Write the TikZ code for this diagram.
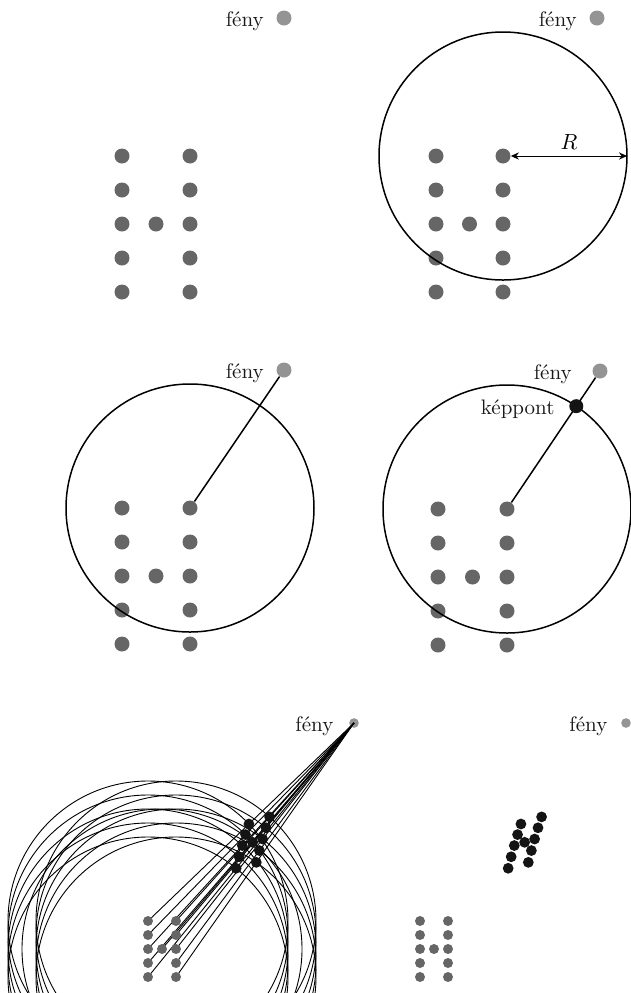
\documentclass[tikz,border=0pt]{standalone}
\usepackage{tikz}
\usetikzlibrary{arrows.meta,positioning,calc}
\tikzset{
  px/.style={x=0.5pt, y=-0.5pt, font=\fontsize{10.5}{12}\selectfont},
  h dot/.style={circle, fill=black!60, inner sep=0pt, minimum size=7.5pt},
  h lamp/.style={circle, fill=black!42, inner sep=0pt, minimum size=7.5pt},
  h pix/.style={circle, fill=black!92, inner sep=0pt, minimum size=7pt},
  s dot/.style={h dot, minimum size=5pt},
  s lamp/.style={h lamp, minimum size=4.8pt},
  s pix/.style={h pix, minimum size=5.4pt},
  h lbl/.style={inner sep=0pt, text=black!90},
  h ring/.style={line width=0.75pt},
  h ray/.style={line width=0.75pt},
  s ring/.style={line width=0.45pt},
  s ray/.style={line width=0.45pt},
  r arr/.style={{Stealth[length=4pt,width=3.6pt]}-{Stealth[length=4pt,width=3.6pt]}, line width=0.5pt},
}

\begin{document}
\begin{tikzpicture}[px]
\useasboundingbox (0,0) rectangle (631,993);
% ---- panel 1: the H and the light ----
\foreach \c/\r [count=\i] in {0/0,0/1,0/2,0/3,0/4,2/0,2/1,2/2,2/3,2/4,1/2} \node[h dot] (a\i) at (122+\c*34, 156+\r*34) {};
\node[h lamp] (L1) at (284,18) {};
\node[h lbl, left=6pt of L1, yshift=-1.5pt] (t1) {fény};
% ---- panel 2: radius R ----
\foreach \c/\r [count=\i] in {0/0,0/1,0/2,0/3,0/4,2/0,2/1,2/2,2/3,2/4,1/2} \node[h dot] (b\i) at (436+\c*33.5, 156+\r*34) {};
\node[h lamp] (L2) at (597,18) {};
\node[h lbl, left=6pt of L2, yshift=-1.5pt] (t2) {fény};
\draw[h ring] (b6.center) circle[radius=124];
\coordinate (r2) at ($(b6.center)+(124,0)$);
\draw[r arr] (b6) -- (r2) node[midway, above, inner sep=3pt] (rl) {$R$};
% ---- panel 3: ray to the light ----
\foreach \c/\r [count=\i] in {0/0,0/1,0/2,0/3,0/4,2/0,2/1,2/2,2/3,2/4,1/2} \node[h dot] (c\i) at (122+\c*34, 508+\r*34) {};
\node[h lamp] (L3) at (284,370) {};
\node[h lbl, left=6pt of L3, yshift=-1.5pt] (t3) {fény};
\draw[h ring] (c6.center) circle[radius=124];
\draw[h ray] (c6) -- (L3);
% ---- panel 4: image point ----
\foreach \c/\r [count=\i] in {0/0,0/1,0/2,0/3,0/4,2/0,2/1,2/2,2/3,2/4,1/2} \node[h dot] (d\i) at (438+\c*34.5, 509+\r*34) {};
\node[h lamp] (L4) at (600,371) {};
\node[h lbl, left=10pt of L4, yshift=-1.5pt] (t4) {fény};
\draw[h ring] (d6.center) circle[radius=124];
\draw[h ray] (d6) -- (L4);
\node[h pix] (P4) at ($(d6.center)!62pt!(L4.center)$) {};
\node[h lbl, left=7pt of P4, yshift=-1.5pt] (t5) {képpont};
% ---- panel 5: all points ----
\begin{scope}
\clip (0,0) rectangle (631,993);
\foreach \c/\r [count=\i] in {0/0,0/1,0/2,0/3,0/4,2/0,2/1,2/2,2/3,2/4,1/2} \coordinate (e\i) at (148+\c*14, 921+\r*14);
\node[s lamp] (L5) at (354,723) {};
\node[h lbl, left=7.5pt of L5, yshift=-1.5pt] (t6) {fény};
\foreach \i in {1,...,11} \draw[s ring] (e\i) circle[radius=140];
\foreach \i in {1,...,11} \draw[s ray] (e\i) -- (L5.center);
\foreach \i in {1,...,11} \node[s dot] (e\i d) at (e\i) {};
\foreach \i in {1,...,11} \node[s pix] (f\i) at ($(e\i)!70pt!(L5.center)$) {};
\end{scope}
% ---- panel 6: the result ----
\foreach \c/\r [count=\i] in {0/0,0/1,0/2,0/3,0/4,2/0,2/1,2/2,2/3,2/4,1/2} \node[s dot] (g\i) at (420+\c*14, 921+\r*14) {};
\node[s lamp] (L6) at (626,723) {};
\node[h lbl, left=6.5pt of L6, yshift=-1.5pt] (t7) {fény};
\foreach \i in {1,...,11} \node[s pix] (k\i) at ($(g\i.center)!70pt!(L6.center)$) {};
\end{tikzpicture}
\end{document}
